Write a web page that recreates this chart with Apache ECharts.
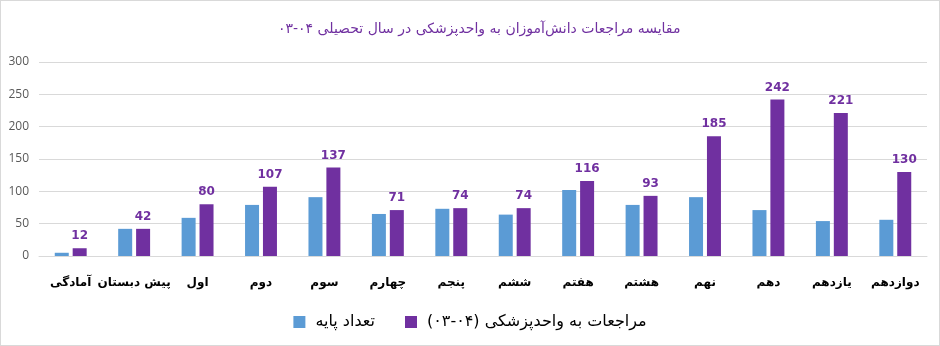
<!DOCTYPE html>
<html>
<head>
<meta charset="utf-8">
<script src="https://cdn.jsdelivr.net/npm/echarts@6/dist/echarts.min.js"></script>
<style>
  html, body { margin: 0; padding: 0; background: #fff; }
  #chart { width: 938px; height: 344px; border: 1px solid #d9d9d9; }
</style>
</head>
<body>
<div id="chart" dir="rtl"></div>
<script>
// Grades (school levels)
const grades = ['آمادگی', 'پیش دبستان', 'اول', 'دوم', 'سوم', 'چهارم', 'پنجم', 'ششم', 'هفتم', 'هشتم', 'نهم', 'دهم', 'یازدهم', 'دوازدهم'];
// Number of students per grade
const gradeCount = [5, 42, 59, 79, 91, 65, 73, 64, 102, 79, 91, 71, 54, 56];
// Visits to the health unit in school year 04-03
const healthVisits = [12, 42, 80, 107, 137, 71, 74, 74, 116, 93, 185, 242, 221, 130];
// Value axis ticks
const yTicks = { min: 0, max: 300, step: 50 };

const titleText = 'مقایسه مراجعات دانش‌آموزان به واحدپزشکی در سال تحصیلی ۰۴-۰۳';
const nameCount = 'تعداد پایه';
const nameVisits = 'مراجعات به واحدپزشکی (۰۴-۰۳)';

const arabicFont = '"DejaVu Sans", sans-serif';

const chart = echarts.init(document.getElementById('chart'), null, { renderer: 'canvas' });
chart.setOption({
  animation: false,
  backgroundColor: '#ffffff',
  title: {
    text: titleText,
    left: 272,
    top: 16,
    textStyle: { color: '#7030A0', fontSize: 14, fontWeight: 'normal', fontFamily: arabicFont }
  },
  legend: {
    bottom: 10,
    left: 'center',
    itemWidth: 12,
    itemHeight: 12,
    itemGap: 30,
    icon: 'rect',
    textStyle: { color: '#000', fontSize: 16, fontFamily: arabicFont, padding: [0, 0, 0, 5] }
  },
  grid: { left: 38, right: 12, top: 61, bottom: 89 },
  xAxis: {
    type: 'category',
    data: grades,
    axisLine: { lineStyle: { color: '#d9d9d9' } },
    axisTick: { show: false },
    axisLabel: { color: '#000', fontSize: 12, fontWeight: 'bold', fontFamily: arabicFont, margin: 21, interval: 0 }
  },
  yAxis: {
    type: 'value',
    min: yTicks.min,
    max: yTicks.max,
    interval: yTicks.step,
    axisLine: { show: false },
    axisTick: { show: false },
    splitLine: { lineStyle: { color: '#d9d9d9' } },
    axisLabel: { color: '#595959', fontSize: 12, fontFamily: '"Open Sans", sans-serif', margin: 10 }
  },
  series: [
    {
      name: nameCount,
      type: 'bar',
      data: gradeCount,
      barWidth: 14,
      barGap: '28%',
      itemStyle: { color: '#5B9BD5' }
    },
    {
      name: nameVisits,
      type: 'bar',
      data: healthVisits,
      barWidth: 14,
      itemStyle: { color: '#7030A0' },
      label: {
        show: true,
        position: 'top',
        distance: 6,
        color: '#7030A0',
        fontSize: 12,
        fontWeight: 'bold',
        fontFamily: '"DejaVu Sans", sans-serif'
      }
    }
  ]
});
</script>
</body>
</html>
